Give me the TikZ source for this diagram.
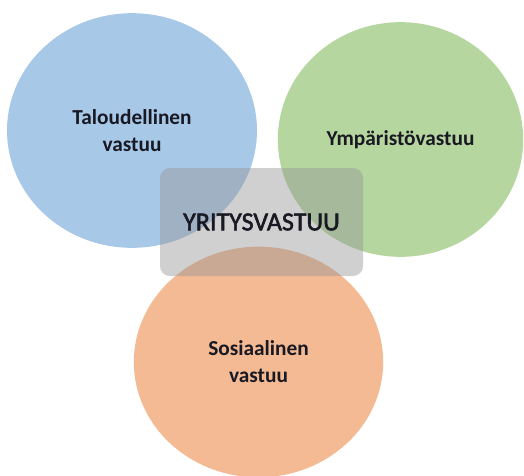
\documentclass[tikz,border=0pt]{standalone}
\usepackage{fontspec}
\setmainfont{Carlito}
\newfontfamily\coreface[FakeBold=2]{Carlito}
\usetikzlibrary{shapes.geometric}
\definecolor{econblue}{RGB}{168,200,232}
\definecolor{envgreen}{RGB}{182,214,160}
\definecolor{socorange}{RGB}{244,186,148}
\definecolor{coregray}{RGB}{150,150,150}
\definecolor{labeltext}{RGB}{25,25,35}
\begin{document}
\begin{tikzpicture}[x=0.75pt,y=-0.75pt,
  area/.style={ellipse, inner sep=0pt, align=center, text=labeltext,
    font=\fontsize{16}{20.25}\selectfont\bfseries},
  core/.style={rectangle, rounded corners=7.5pt, fill=coregray, fill opacity=0.45,
    text opacity=1, text=labeltext, minimum width=152.25pt, minimum height=81pt,
    font=\fontsize{19.5}{22}\selectfont\coreface}]
\useasboundingbox (0,0) rectangle (524,475);
\draw (132,130.5) node[area, fill=econblue, minimum width=187.5pt, minimum height=176pt] (econ) {Taloudellinen\\vastuu};
\draw (400.5,139.5) node[area, fill=envgreen, minimum width=184pt, minimum height=176pt] (env) {Ympäristövastuu};
\draw (258.5,362) node[area, fill=socorange, minimum width=187pt, minimum height=173pt] (soc) {Sosiaalinen\\vastuu};
\draw (261.5,222) node[core] (core) {YRITYSVASTUU};
\end{tikzpicture}
\end{document}
